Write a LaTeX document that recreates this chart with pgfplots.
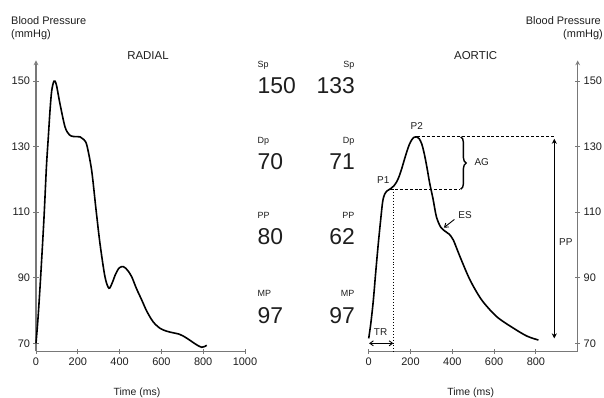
\documentclass[border=0pt]{standalone}
\usepackage{fontspec}
\setmainfont{Liberation Sans}
\usepackage{pgfplots}
\pgfplotsset{compat=1.18}
\usetikzlibrary{decorations.pathreplacing,arrows.meta}
\definecolor{axgray}{RGB}{120,120,120}
\definecolor{txt}{RGB}{30,30,30}
\begin{document}
\begin{tikzpicture}
\useasboundingbox (0bp,0bp) rectangle (604bp,398bp);
\pgfplotsset{
  common/.style={
    scale only axis, width=209bp, height=291bp,
    xmin=0, xmax=1000, ymin=67.5, ymax=156.3,
    ytick={70,90,110,130,150},
    axis x line=bottom,
    axis line style={-, axgray, line width=1.1bp},
    tick style={axgray, line width=0.9bp},
    tick align=center, major tick length=5bp,
    tick label style={font=\fontsize{11}{13}\selectfont, text=txt},
    /pgf/number format/assume math mode=true,
    /pgf/number format/1000 sep={},
    clip=false,
  }
}
% RADIAL
\begin{axis}[common, at={(36bp,46.5bp)}, anchor=south west, axis y line=left, xtick={0,200,400,600,800,1000}]
\addplot[smooth, tension=0.5, black, line width=1.6bp] coordinates {
(0,70) (10,78) (22,90) (38,108) (50,124) (59,133) (67,141) (75,147) (86,150) (97,149)
(115,143) (139,136) (160,133.6) (180,133.1) (211,133) (228,132.2) (243,130.5) (266,122.9)
(286,111.5) (306,100.5) (330,90.3) (349,86.8) (365,88.5) (380,91) (398,93) (418,93.4)
(438,92.3) (458,90.3) (480,86.8) (506,83.2) (530,79.8) (560,76.6) (593,74.6) (625,73.7)
(657,73.2) (685,72.8) (705,72.2) (730,71.2) (753,70.2) (775,69.3) (793,68.8) (806,69) (817,69.4)
};
\end{axis}
% AORTIC
\begin{axis}[common, at={(368.7bp,46.5bp)}, anchor=south west, axis y line=right, xtick={0,200,400,600,800}]
\addplot[smooth, tension=0.5, black, line width=1.6bp] coordinates {
(0,71.5) (10,76) (22,83) (34,92) (46,100.5) (57,107.5) (67,113.3) (77,115.6) (90,116.6)
(105,117.2) (120,118) (134,119.3) (146,121) (158,123.3) (170,125.9) (182,128.4) (194,130.6)
(206,132.1) (218,132.9) (230,133) (242,132.4) (254,130.8) (266,127.8) (278,123.9) (292,118.8)
(308,114) (324,108.6) (345,105.4) (370,104) (385,103.3) (405,101.5) (437,96.4) (485,89.3)
(541,83.2) (613,78.1) (693,74.6) (757,72.2) (812,71)
};
% annotations
\draw[densely dashed, line width=0.8bp] (axis cs:230,133) -- (axis cs:892,133);
\draw[densely dashed, line width=0.8bp] (axis cs:100,117) -- (axis cs:437,117);
\draw[dotted, line width=0.9bp] (axis cs:117,117) -- (axis cs:117,67.5);
\draw[decorate, decoration={brace, amplitude=5.5bp}, line width=1.4bp] (axis cs:440,133) -- (axis cs:440,117);
\draw[{Stealth[length=5bp,width=5bp]}-{Stealth[length=5bp,width=5bp]}, line width=0.9bp] (axis cs:888,132.4) -- (axis cs:888,71.5);
\draw[{Straight Barb[length=3.5bp,width=5bp]}-{Straight Barb[length=3.5bp,width=5bp]}, line width=0.9bp] (axis cs:2,70) -- (axis cs:118,70);
\draw[-{Straight Barb[length=3.5bp,width=5bp]}, line width=0.9bp] (axis cs:410,107.8) -- (axis cs:360,105.3);
\node[font=\fontsize{10}{12}\selectfont, text=txt] at (axis cs:70,119.8) {P1};
\node[font=\fontsize{10}{12}\selectfont, text=txt] at (axis cs:230,136.3) {P2};
\node[font=\fontsize{10}{12}\selectfont, text=txt] at (axis cs:541,125.2) {AG};
\node[font=\fontsize{10}{12}\selectfont, text=txt] at (axis cs:461,109.1) {ES};
\node[font=\fontsize{10}{12}\selectfont, text=txt] at (axis cs:943,101) {PP};
\node[font=\fontsize{10}{12}\selectfont, text=txt] at (axis cs:57,73.3) {TR};
\end{axis}
% headings
\begin{scope}[every node/.style={inner sep=0pt, text=txt}]
\node[anchor=base west, font=\fontsize{11}{13}\selectfont] at (11bp,373.7bp) {Blood Pressure};
\node[anchor=base west, font=\fontsize{11}{13}\selectfont] at (11bp,360.7bp) {(mmHg)};
\node[anchor=base east, font=\fontsize{11}{13}\selectfont] at (601bp,373.7bp) {Blood Pressure};
\node[anchor=base east, font=\fontsize{11}{13}\selectfont] at (603bp,360.7bp) {(mmHg)};
\node[anchor=base, font=\fontsize{11.5}{13}\selectfont] at (148bp,338bp) {RADIAL};
\node[anchor=base, font=\fontsize{11.5}{13}\selectfont] at (475.7bp,338bp) {AORTIC};
\node[anchor=base, font=\fontsize{10.5}{12}\selectfont] at (137bp,2.5bp) {Time (ms)};
\node[anchor=base, font=\fontsize{10.5}{12}\selectfont] at (470.7bp,2.5bp) {Time (ms)};
% middle values
\foreach \lab/\a/\b/\yl/\yv in {Sp/150/133/330/304.7, Dp/70/71/254.7/228, PP/80/62/179.7/153, MP/97/97/101.3/74.7}{
  \node[anchor=base west, font=\fontsize{9}{11}\selectfont] at (257.5bp,\yl bp) {\lab};
  \node[anchor=base west, font=\fontsize{23}{26}\selectfont] at (257.5bp,\yv bp) {\a};
  \node[anchor=base east, font=\fontsize{9}{11}\selectfont] at (354.5bp,\yl bp) {\lab};
  \node[anchor=base east, font=\fontsize{23}{26}\selectfont] at (355bp,\yv bp) {\b};
}
\end{scope}
\end{tikzpicture}
\end{document}
